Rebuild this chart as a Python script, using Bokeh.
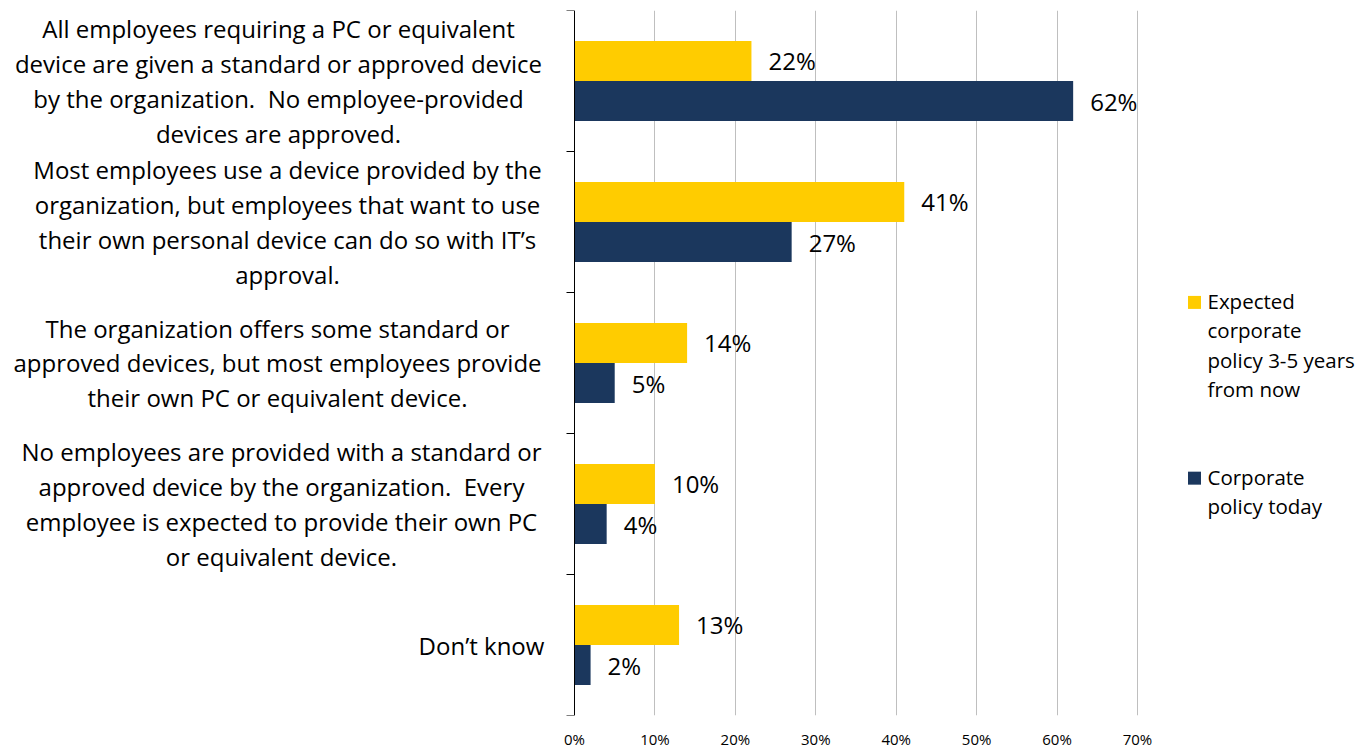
from bokeh.plotting import figure
from bokeh.models import Range1d, FixedTicker, ColumnDataSource
from bokeh.core.properties import value
from bokeh.embed import file_html
from bokeh.resources import INLINE

categories = [
    "All employees requiring a PC or equivalent\ndevice are given a standard or approved device\nby the organization.\u00a0 No employee-provided\ndevices are approved.",
    "Most employees use a device provided by the\norganization, but employees that want to use\ntheir own personal device can do so with IT\u2019s\napproval.",
    "The organization offers some standard or\napproved devices, but most employees provide\ntheir own PC or equivalent device.",
    "No employees are provided with a standard or\napproved device by the organization.\u00a0 Every\nemployee is expected to provide their own PC\nor equivalent device.",
    "Don\u2019t know",
]
expected = [22, 41, 14, 10, 13]
today = [62, 27, 5, 4, 2]
series_names = ["Expected\ncorporate\npolicy 3-5 years\nfrom now", "Corporate\npolicy today"]
x_ticks = [0, 10, 20, 30, 40, 50, 60, 70]
x_tick_labels = ["0%", "10%", "20%", "30%", "40%", "50%", "60%", "70%"]

YELLOW = "#FFCC00"
NAVY = "#1B375D"
FONT = "Open Sans"

n = len(categories)
W, H = 1371, 751
X0 = 574                      # pixel of 0%
px_per_unit = 563 / 70.0
x_start = -X0 / px_per_unit
x_end = (W - X0) / px_per_unit
TOP = 10
cat_px = 704 / n

p = figure(width=W, height=H, output_backend="svg", toolbar_location=None,
           x_range=Range1d(x_start, x_end), y_range=Range1d(n, 0),
           y_axis_location=None, min_border_left=0, min_border_right=0,
           min_border_top=TOP, min_border_bottom=0)
p.outline_line_color = None
p.background_fill_color = "white"

ax = p.xaxis[0]
ax.ticker = FixedTicker(ticks=x_ticks)
ax.major_label_overrides = {t: l for t, l in zip(x_ticks, x_tick_labels)}
ax.axis_line_color = None
ax.major_tick_line_color = None
ax.major_tick_out = 0
ax.major_tick_in = 0
ax.minor_tick_line_color = None
ax.major_label_standoff = 13
ax.major_label_text_font = FONT
ax.major_label_text_font_size = "15px"
ax.major_label_text_color = "black"

p.xgrid.ticker = FixedTicker(ticks=x_ticks[1:])
p.xgrid.grid_line_color = "#BFBFBF"
p.xgrid.grid_line_width = 1
p.ygrid.grid_line_color = None

centers = [i + 0.5 for i in range(n)]
bar_h = 0.284
off = bar_h / 2
src = ColumnDataSource(dict(
    y_exp=[c - off for c in centers],
    y_today=[c + off for c in centers],
    expected=expected,
    today=today,
    exp_lbl=[f"{v}%" for v in expected],
    today_lbl=[f"{v}%" for v in today],
))

p.hbar(y="y_exp", right="expected", left=0, height=bar_h, source=src,
       fill_color=YELLOW, line_color=None)
p.hbar(y="y_today", right="today", left=0, height=bar_h, source=src,
       fill_color=NAVY, line_color=None)

for xf, yf, lf in (("expected", "y_exp", "exp_lbl"), ("today", "y_today", "today_lbl")):
    p.text(x=xf, y=yf, text=lf, source=src, x_offset=17,
           text_align="left", text_baseline="middle", text_font=value(FONT),
           text_font_size="24px", text_color="black")

# y axis line with outward tick marks at category boundaries
bounds = list(range(n + 1))
p.segment(x0=[0], y0=[0], x1=[0], y1=[n], line_color="black", line_width=1)
p.segment(x0=[-8 / px_per_unit] * len(bounds), y0=bounds, x1=[0] * len(bounds), y1=bounds,
          line_color="black", line_width=1)

# category labels (centered text blocks left of the axis)
label_center_px = [278, 287, 277, 281, 481]
label_x = [(c - X0) / px_per_unit for c in label_center_px]
p.text(x=label_x, y=centers, text=categories, text_align="center", text_baseline="middle",
       text_font=value(FONT), text_font_size="24px", text_line_height=1.055,
       text_color="black")

# legend
def ydata(page_y):
    return (page_y - TOP) / cat_px

leg_sq_x = (1194 - X0) / px_per_unit
leg_tx = (1207 - X0) / px_per_unit
p.scatter(x=[leg_sq_x, leg_sq_x], y=[ydata(301.5), ydata(477)], marker="square", size=13,
          fill_color=[YELLOW, NAVY], line_color=None)
p.text(x=[leg_tx, leg_tx], y=[ydata(344), ydata(490)], text=series_names,
       text_align="left", text_baseline="middle", text_font=value(FONT),
       text_font_size="20.5px", text_line_height=1.04, text_color="black")

open("out.html", "w").write(file_html(p, INLINE))
